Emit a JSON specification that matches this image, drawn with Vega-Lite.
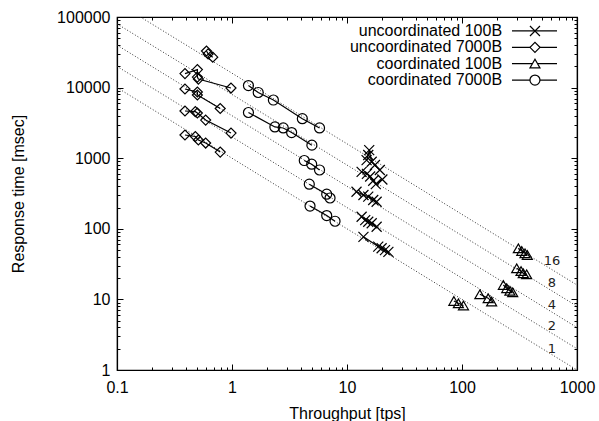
{
  "$schema": "https://vega.github.io/schema/vega-lite/v6.json",
  "width": 460,
  "height": 353,
  "autosize": {"type": "none"},
  "padding": {"left": 117, "top": 17, "right": 22, "bottom": 51},
  "background": "white",
  "config": {
    "view": {"stroke": "#000", "strokeWidth": 1.2},
    "font": "Liberation Sans",
    "axis": {
      "labelFont": "Liberation Sans", "labelFontSize": 16, "labelColor": "#000",
      "titleFont": "Liberation Sans", "titleFontSize": 16, "titleFontWeight": "normal", "titleColor": "#000",
      "domainColor": "#000", "domainWidth": 1.2, "tickColor": "#000", "tickWidth": 1, "grid": false,
      "labelFlush": false, "labelOverlap": false
    }
  },
  "datasets": {
    "pts": [
      {"series": "uncoordinated 7000B", "n": 16, "x": 0.60, "y": 33000},
      {"series": "uncoordinated 7000B", "n": 16, "x": 0.62, "y": 30000},
      {"series": "uncoordinated 7000B", "n": 16, "x": 0.68, "y": 27000},
      {"series": "uncoordinated 7000B", "n": 8, "x": 0.39, "y": 15800},
      {"series": "uncoordinated 7000B", "n": 8, "x": 0.50, "y": 18000},
      {"series": "uncoordinated 7000B", "n": 8, "x": 0.50, "y": 14100},
      {"series": "uncoordinated 7000B", "n": 8, "x": 0.51, "y": 13200},
      {"series": "uncoordinated 7000B", "n": 8, "x": 0.98, "y": 9860},
      {"series": "uncoordinated 7000B", "n": 4, "x": 0.39, "y": 9550},
      {"series": "uncoordinated 7000B", "n": 4, "x": 0.50, "y": 8660},
      {"series": "uncoordinated 7000B", "n": 4, "x": 0.50, "y": 7860},
      {"series": "uncoordinated 7000B", "n": 4, "x": 0.79, "y": 5060},
      {"series": "uncoordinated 7000B", "n": 2, "x": 0.39, "y": 4660},
      {"series": "uncoordinated 7000B", "n": 2, "x": 0.48, "y": 4560},
      {"series": "uncoordinated 7000B", "n": 2, "x": 0.50, "y": 4370},
      {"series": "uncoordinated 7000B", "n": 2, "x": 0.59, "y": 3470},
      {"series": "uncoordinated 7000B", "n": 2, "x": 0.98, "y": 2270},
      {"series": "uncoordinated 7000B", "n": 1, "x": 0.39, "y": 2130},
      {"series": "uncoordinated 7000B", "n": 1, "x": 0.48, "y": 2030},
      {"series": "uncoordinated 7000B", "n": 1, "x": 0.51, "y": 1810},
      {"series": "uncoordinated 7000B", "n": 1, "x": 0.59, "y": 1640},
      {"series": "uncoordinated 7000B", "n": 1, "x": 0.79, "y": 1220},

      {"series": "coordinated 7000B", "n": 16, "x": 1.39, "y": 10700},
      {"series": "coordinated 7000B", "n": 16, "x": 1.69, "y": 8530},
      {"series": "coordinated 7000B", "n": 16, "x": 2.29, "y": 6670},
      {"series": "coordinated 7000B", "n": 16, "x": 4.09, "y": 3630},
      {"series": "coordinated 7000B", "n": 16, "x": 5.77, "y": 2680},
      {"series": "coordinated 7000B", "n": 8, "x": 1.39, "y": 4440},
      {"series": "coordinated 7000B", "n": 8, "x": 2.36, "y": 2770},
      {"series": "coordinated 7000B", "n": 8, "x": 2.79, "y": 2680},
      {"series": "coordinated 7000B", "n": 8, "x": 3.30, "y": 2310},
      {"series": "coordinated 7000B", "n": 8, "x": 4.95, "y": 1530},
      {"series": "coordinated 7000B", "n": 4, "x": 4.25, "y": 927},
      {"series": "coordinated 7000B", "n": 4, "x": 4.93, "y": 822},
      {"series": "coordinated 7000B", "n": 4, "x": 5.77, "y": 681},
      {"series": "coordinated 7000B", "n": 2, "x": 4.70, "y": 428},
      {"series": "coordinated 7000B", "n": 2, "x": 6.66, "y": 309},
      {"series": "coordinated 7000B", "n": 2, "x": 7.12, "y": 273},
      {"series": "coordinated 7000B", "n": 1, "x": 4.77, "y": 210},
      {"series": "coordinated 7000B", "n": 1, "x": 6.66, "y": 154},
      {"series": "coordinated 7000B", "n": 1, "x": 7.87, "y": 128},

      {"series": "uncoordinated 100B", "n": 16, "x": 14.8, "y": 940},
      {"series": "uncoordinated 100B", "n": 16, "x": 15.3, "y": 1110},
      {"series": "uncoordinated 100B", "n": 16, "x": 15.6, "y": 1300},
      {"series": "uncoordinated 100B", "n": 16, "x": 16.4, "y": 890},
      {"series": "uncoordinated 100B", "n": 16, "x": 17.5, "y": 800},
      {"series": "uncoordinated 100B", "n": 16, "x": 19.3, "y": 680},
      {"series": "uncoordinated 100B", "n": 8, "x": 13.4, "y": 640},
      {"series": "uncoordinated 100B", "n": 8, "x": 14.9, "y": 600},
      {"series": "uncoordinated 100B", "n": 8, "x": 15.9, "y": 550},
      {"series": "uncoordinated 100B", "n": 8, "x": 16.9, "y": 480},
      {"series": "uncoordinated 100B", "n": 8, "x": 17.8, "y": 430},
      {"series": "uncoordinated 100B", "n": 8, "x": 20.3, "y": 500},
      {"series": "uncoordinated 100B", "n": 4, "x": 12.1, "y": 335},
      {"series": "uncoordinated 100B", "n": 4, "x": 13.9, "y": 301},
      {"series": "uncoordinated 100B", "n": 4, "x": 15.3, "y": 285},
      {"series": "uncoordinated 100B", "n": 4, "x": 16.9, "y": 256},
      {"series": "uncoordinated 100B", "n": 4, "x": 18.1, "y": 242},
      {"series": "uncoordinated 100B", "n": 2, "x": 13.4, "y": 148},
      {"series": "uncoordinated 100B", "n": 2, "x": 14.4, "y": 133},
      {"series": "uncoordinated 100B", "n": 2, "x": 15.3, "y": 126},
      {"series": "uncoordinated 100B", "n": 2, "x": 16.4, "y": 120},
      {"series": "uncoordinated 100B", "n": 2, "x": 18.1, "y": 107},
      {"series": "uncoordinated 100B", "n": 1, "x": 13.9, "y": 77},
      {"series": "uncoordinated 100B", "n": 1, "x": 18.7, "y": 56},
      {"series": "uncoordinated 100B", "n": 1, "x": 20.0, "y": 53},
      {"series": "uncoordinated 100B", "n": 1, "x": 21.4, "y": 50},
      {"series": "uncoordinated 100B", "n": 1, "x": 22.9, "y": 47},

      {"series": "coordinated 100B", "n": 16, "x": 309, "y": 53},
      {"series": "coordinated 100B", "n": 16, "x": 331, "y": 48.5},
      {"series": "coordinated 100B", "n": 16, "x": 353, "y": 45},
      {"series": "coordinated 100B", "n": 16, "x": 370, "y": 42.6},
      {"series": "coordinated 100B", "n": 8, "x": 299, "y": 27.6},
      {"series": "coordinated 100B", "n": 8, "x": 326, "y": 25.2},
      {"series": "coordinated 100B", "n": 8, "x": 341, "y": 23.4},
      {"series": "coordinated 100B", "n": 8, "x": 365, "y": 22.7},
      {"series": "coordinated 100B", "n": 4, "x": 229, "y": 16.0},
      {"series": "coordinated 100B", "n": 4, "x": 245, "y": 14.4},
      {"series": "coordinated 100B", "n": 4, "x": 261, "y": 13.2},
      {"series": "coordinated 100B", "n": 4, "x": 276, "y": 12.6},
      {"series": "coordinated 100B", "n": 2, "x": 143, "y": 11.8},
      {"series": "coordinated 100B", "n": 2, "x": 169, "y": 10.4},
      {"series": "coordinated 100B", "n": 2, "x": 181, "y": 9.3},
      {"series": "coordinated 100B", "n": 1, "x": 85, "y": 9.5},
      {"series": "coordinated 100B", "n": 1, "x": 93, "y": 8.8},
      {"series": "coordinated 100B", "n": 1, "x": 103, "y": 8.2}
    ],
    "ref": [
      {"n": 1, "x": 0.1, "y": 10000}, {"n": 1, "x": 1000, "y": 1},
      {"n": 2, "x": 0.1, "y": 20000}, {"n": 2, "x": 1000, "y": 2},
      {"n": 4, "x": 0.1, "y": 40000}, {"n": 4, "x": 1000, "y": 4},
      {"n": 8, "x": 0.1, "y": 80000}, {"n": 8, "x": 1000, "y": 8},
      {"n": 16, "x": 0.1, "y": 160000}, {"n": 16, "x": 1000, "y": 16}
    ],
    "reflabels": [
      {"label": "16", "y": 35},
      {"label": "8", "y": 17.1},
      {"label": "4", "y": 8.3},
      {"label": "2", "y": 4.2},
      {"label": "1", "y": 1.98}
    ],
    "legend": [
      {"series": "uncoordinated 100B", "y": 63400},
      {"series": "uncoordinated 7000B", "y": 37200},
      {"series": "coordinated 100B", "y": 21900},
      {"series": "coordinated 7000B", "y": 12800}
    ]
  },
  "layer": [
    {
      "data": {"name": "ref"},
      "mark": {"type": "line", "clip": true, "stroke": "#333", "strokeWidth": 1, "strokeDash": [1, 2]},
      "encoding": {
        "x": {"field": "x", "type": "quantitative", "scale": {"type": "log", "domain": [0.1, 1000], "nice": false},
          "axis": {"orient": "bottom", "title": "Throughput [tps]", "titleBaseline": "middle", "titleY": 43,
            "values": [0.1,0.2,0.3,0.4,0.5,0.6,0.7,0.8,0.9,1,2,3,4,5,6,7,8,9,10,20,30,40,50,60,70,80,90,100,200,300,400,500,600,700,800,900,1000],
            "format": "~g", "labelPadding": 15,
            "labelExpr": "indexof([0.1,1,10,100,1000], datum.value) >= 0 ? datum.label : ''",
            "tickSize": {"condition": {"test": "indexof([0.1,1,10,100,1000], datum.value) >= 0", "value": -6}, "value": -3}}},
        "y": {"field": "y", "type": "quantitative", "scale": {"type": "log", "domain": [1, 100000], "nice": false},
          "axis": {"orient": "left", "title": "Response time [msec]", "titleBaseline": "middle", "titleX": -99,
            "values": [1,2,3,4,5,6,7,8,9,10,20,30,40,50,60,70,80,90,100,200,300,400,500,600,700,800,900,1000,2000,3000,4000,5000,6000,7000,8000,9000,10000,20000,30000,40000,50000,60000,70000,80000,90000,100000],
            "format": "~g", "labelPadding": 13,
            "labelExpr": "indexof([1,10,100,1000,10000,100000], datum.value) >= 0 ? datum.label : ''",
            "tickSize": {"condition": {"test": "indexof([1,10,100,1000,10000,100000], datum.value) >= 0", "value": -6}, "value": -3}}},
        "detail": {"field": "n", "type": "nominal"}
      }
    },
    {
      "data": {"name": "reflabels"},
      "mark": {"type": "text", "font": "DejaVu Sans", "fontSize": 13, "color": "#222", "align": "center", "baseline": "middle"},
      "encoding": {
        "x": {"datum": 606, "type": "quantitative", "scale": {"type": "log", "domain": [0.1, 1000], "nice": false},
          "axis": {"orient": "top", "title": null, "labels": false,
            "values": [0.1,0.2,0.3,0.4,0.5,0.6,0.7,0.8,0.9,1,2,3,4,5,6,7,8,9,10,20,30,40,50,60,70,80,90,100,200,300,400,500,600,700,800,900,1000],
            "tickSize": {"condition": {"test": "indexof([0.1,1,10,100,1000], datum.value) >= 0", "value": -6}, "value": -3}}},
        "y": {"field": "y", "type": "quantitative", "scale": {"type": "log", "domain": [1, 100000], "nice": false},
          "axis": {"orient": "right", "title": null, "labels": false,
            "values": [1,2,3,4,5,6,7,8,9,10,20,30,40,50,60,70,80,90,100,200,300,400,500,600,700,800,900,1000,2000,3000,4000,5000,6000,7000,8000,9000,10000,20000,30000,40000,50000,60000,70000,80000,90000,100000],
            "tickSize": {"condition": {"test": "indexof([1,10,100,1000,10000,100000], datum.value) >= 0", "value": -6}, "value": -3}}},
        "text": {"field": "label", "type": "nominal"}
      }
    },
    {
      "data": {"name": "pts"},
      "mark": {"type": "line", "stroke": "#000", "strokeWidth": 1.2},
      "encoding": {
        "x": {"field": "x", "type": "quantitative", "scale": {"type": "log", "domain": [0.1, 1000], "nice": false}, "axis": null},
        "y": {"field": "y", "type": "quantitative", "scale": {"type": "log", "domain": [1, 100000], "nice": false}, "axis": null},
        "detail": [{"field": "series", "type": "nominal"}, {"field": "n", "type": "nominal"}]
      }
    },
    {
      "data": {"name": "pts"},
      "mark": {"type": "point", "filled": false, "stroke": "#000", "strokeWidth": 1.2, "opacity": 1},
      "encoding": {
        "x": {"field": "x", "type": "quantitative", "scale": {"type": "log", "domain": [0.1, 1000], "nice": false}, "axis": null},
        "y": {"field": "y", "type": "quantitative", "scale": {"type": "log", "domain": [1, 100000], "nice": false}, "axis": null},
        "shape": {"field": "series", "type": "nominal", "legend": null,
          "scale": {"domain": ["uncoordinated 100B", "uncoordinated 7000B", "coordinated 100B", "coordinated 7000B"],
            "range": ["M-1,-1L1,1M-1,1L1,-1", "diamond", "triangle-up", "circle"]}},
        "size": {"field": "series", "type": "ordinal", "legend": null,
          "scale": {"domain": ["uncoordinated 100B", "uncoordinated 7000B", "coordinated 100B", "coordinated 7000B"],
            "range": [100, 100, 140, 105]}}
      }
    },
    {
      "data": {"name": "legend"},
      "mark": {"type": "text", "align": "right", "baseline": "middle", "font": "Liberation Sans", "fontSize": 16, "color": "#000"},
      "encoding": {
        "x": {"datum": 223, "type": "quantitative", "scale": {"type": "log", "domain": [0.1, 1000], "nice": false}, "axis": null},
        "y": {"field": "y", "type": "quantitative", "scale": {"type": "log", "domain": [1, 100000], "nice": false}, "axis": null},
        "text": {"field": "series", "type": "nominal"}
      }
    },
    {
      "data": {"name": "legend"},
      "mark": {"type": "rule", "stroke": "#000", "strokeWidth": 1.2},
      "encoding": {
        "x": {"datum": 272, "type": "quantitative", "scale": {"type": "log", "domain": [0.1, 1000], "nice": false}, "axis": null},
        "x2": {"datum": 670},
        "y": {"field": "y", "type": "quantitative", "scale": {"type": "log", "domain": [1, 100000], "nice": false}, "axis": null}
      }
    },
    {
      "data": {"name": "legend"},
      "mark": {"type": "point", "filled": true, "fill": "white", "stroke": "#000", "strokeWidth": 1.2, "opacity": 1},
      "encoding": {
        "x": {"datum": 431, "type": "quantitative", "scale": {"type": "log", "domain": [0.1, 1000], "nice": false}, "axis": null},
        "y": {"field": "y", "type": "quantitative", "scale": {"type": "log", "domain": [1, 100000], "nice": false}, "axis": null},
        "shape": {"field": "series", "type": "nominal", "legend": null},
        "size": {"field": "series", "type": "ordinal", "legend": null}
      }
    }
  ],
  "resolve": {"axis": {"x": "independent", "y": "independent"}}
}
